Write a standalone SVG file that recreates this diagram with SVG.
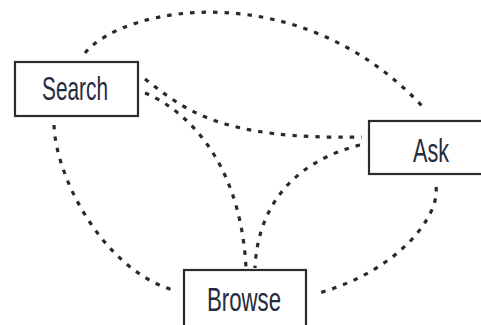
<svg xmlns="http://www.w3.org/2000/svg" width="481" height="325" viewBox="0 0 481 325">
<style>
.bg{fill:#fff}
.box{fill:#fff;stroke:#2b2b2b;stroke-width:2.2}
.lbl{font-family:"Liberation Sans",Arial,sans-serif;font-size:33px;fill:#262b3d;text-anchor:middle}
.con{fill:none;stroke:#2a2a2a;stroke-width:3.2;stroke-dasharray:4.5 7}
</style>
<rect class="bg" width="481" height="325"/>
<g id="connectors">
<path class="con" d="M85,53 C125,5 300,-25 423,107"/>
<path class="con" d="M54,125 C56,180 105,270 173,290"/>
<path class="con" d="M436,187 C440,215 400,270 319,293"/>
<path class="con" d="M145,79 C185,110 220,140 362,137"/>
<path class="con" d="M145,93 C175,105 240,150 246,268"/>
<path class="con" d="M360,145 C300,160 258,200 255,268"/>
</g>
<g id="search">
<rect class="box" x="15" y="62" width="123" height="54"/>
<text class="lbl" x="75" y="100" textLength="66" lengthAdjust="spacingAndGlyphs">Search</text>
</g>
<g id="ask">
<rect class="box" x="369" y="121" width="130" height="53"/>
<text class="lbl" x="431" y="162" textLength="36" lengthAdjust="spacingAndGlyphs">Ask</text>
</g>
<g id="browse">
<rect class="box" x="184" y="270" width="122" height="60"/>
<text class="lbl" x="244" y="311" textLength="74" lengthAdjust="spacingAndGlyphs">Browse</text>
</g>
</svg>
